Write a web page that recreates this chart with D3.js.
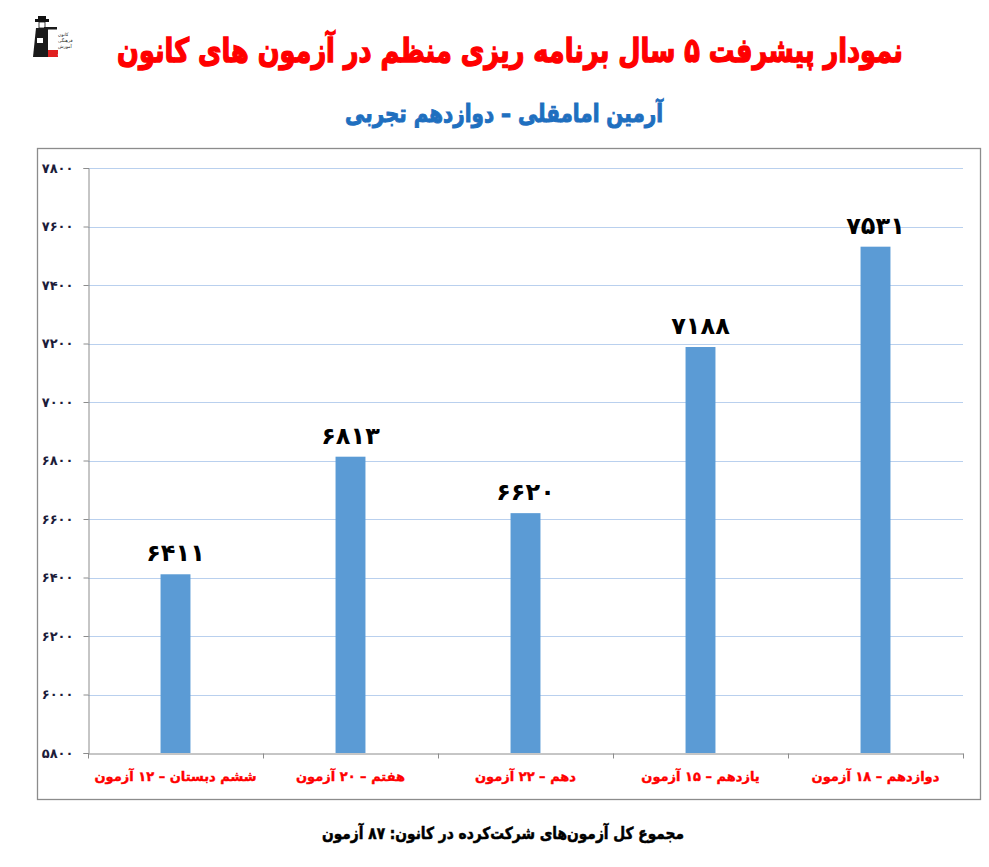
<!DOCTYPE html>
<html lang="fa">
<head>
<meta charset="utf-8">
<script src="https://cdn.jsdelivr.net/npm/d3@7"></script>
<style>
  html, body { margin: 0; padding: 0; background: #fff; }
  svg { display: block; }
  text { font-family: "DejaVu Sans", "Noto Sans", sans-serif; }
</style>
</head>
<body>
<svg id="chart" width="989" height="867"></svg>
<script>
// ---- data ----
const categories = [
  "ششم دبستان – ۱۲ آزمون",
  "هفتم – ۲۰ آزمون",
  "دهم – ۲۲ آزمون",
  "یازدهم – ۱۵ آزمون",
  "دوازدهم – ۱۸ آزمون"
];
const values = [6411, 6813, 6620, 7188, 7531];
const yTicks = [5800, 6000, 6200, 6400, 6600, 6800, 7000, 7200, 7400, 7600, 7800];
const titleText = "نمودار پیشرفت ۵ سال برنامه ریزی منظم در آزمون های کانون";
const subtitleText = "آرمین امامقلی – دوازدهم تجربی";
const footerText = "مجموع کل آزمون‌های شرکت‌کرده در کانون:  ۸۷ آزمون";

const fa = n => String(n).replace(/\d/g, d => "۰۱۲۳۴۵۶۷۸۹"[d]);

const svg = d3.select("#chart");
const plot = { left: 88, right: 963, top: 168, bottom: 753 };

// frame
svg.append("rect").attr("x", 37.5).attr("y", 148.5).attr("width", 943).attr("height", 651)
  .attr("fill", "#fff").attr("stroke", "#8c8c8c").attr("stroke-width", 1.3);

const x = d3.scaleBand().domain(categories).range([plot.left, plot.right]).paddingInner(0.829).paddingOuter(0.4145);
const xb = d3.scaleBand().domain(categories).range([plot.left, plot.right]);
const y = d3.scaleLinear().domain([5800, 7800]).range([plot.bottom, plot.top]);

// gridlines
svg.append("g").selectAll("line").data(yTicks.slice(1)).join("line")
  .attr("x1", plot.left).attr("x2", plot.right)
  .attr("y1", d => Math.round(y(d)) + 0.5).attr("y2", d => Math.round(y(d)) + 0.5)
  .attr("stroke", "#b9d0ee").attr("stroke-width", 1);

// bars
svg.append("g").selectAll("rect").data(values).join("rect")
  .attr("x", (d, i) => x(categories[i]))
  .attr("width", x.bandwidth())
  .attr("y", d => y(d))
  .attr("height", d => plot.bottom - y(d))
  .attr("fill", "#5b9bd5");

// value labels
svg.append("g").selectAll("text").data(values).join("text")
  .attr("x", (d, i) => x(categories[i]) + x.bandwidth() / 2)
  .attr("y", d => y(d) - 13)
  .attr("text-anchor", "middle")
  .attr("font-size", 24).attr("font-weight", "bold").attr("fill", "#000")
  .text(d => fa(d));

// y axis
const yAxis = d3.axisLeft(y).tickValues(yTicks).tickSize(5).tickPadding(10).tickFormat(d => fa(d));
const gy = svg.append("g").attr("transform", `translate(${plot.left + 0.5},0)`).call(yAxis);
gy.select(".domain").attr("stroke", "#8c8c8c");
gy.selectAll(".tick line").attr("stroke", "#8c8c8c");
gy.selectAll(".tick text").attr("font-size", 13).attr("font-weight", "bold").attr("fill", "#1c1c3a")
  .attr("font-family", "DejaVu Sans");

// x axis
const gx = svg.append("g").attr("transform", `translate(0,${plot.bottom + 0.5})`)
  .call(d3.axisBottom(xb).tickSize(0).tickFormat(""));
gx.select(".domain").attr("stroke", "#8c8c8c");
gx.selectAll(".tick").remove();
const bounds = [plot.left, ...categories.map(c => xb(c) + xb.bandwidth())];
gx.selectAll("line.b").data(bounds).join("line").attr("class", "b")
  .attr("x1", d => d + 0.5).attr("x2", d => d + 0.5).attr("y1", 0).attr("y2", 5)
  .attr("stroke", "#8c8c8c");

// category labels
svg.append("g").selectAll("text").data(categories).join("text")
  .attr("x", d => xb(d) + xb.bandwidth() / 2)
  .attr("y", 781)
  .attr("text-anchor", "middle").attr("direction", "rtl")
  .attr("font-size", 13).attr("font-weight", "bold").attr("fill", "#ff0000")
  .attr("stroke", "#ff0000").attr("stroke-width", 0.4)
  .text(d => d);

// titles
function stretchedText(cx, cy, txt, fs, color, targetWidth, sy, sw) {
  const g = svg.append("g").attr("transform", `translate(${cx},${cy}) scale(1,${sy})`);
  const t = g.append("text").attr("x", 0).attr("y", 0).attr("text-anchor", "middle")
    .attr("direction", "rtl").attr("font-size", fs).attr("font-weight", "bold")
    .attr("fill", color).attr("stroke", color).attr("stroke-width", sw)
    .text(txt);
  const w = t.node().getComputedTextLength();
  t.attr("font-size", fs * targetWidth / w);
  return t;
}
stretchedText(510, 62, titleText, 30, "#ff0000", 786, 1.3, 1.1);
stretchedText(504, 122, subtitleText, 22, "#1f6fbf", 318, 1.25, 0.8);
stretchedText(503, 839, footerText, 14, "#000", 362, 1.2, 0.45);

// logo (simplified)
const logo = svg.append("g");
logo.append("rect").attr("x", 35).attr("y", 19).attr("width", 14).attr("height", 3).attr("fill", "#111");
logo.append("rect").attr("x", 38).attr("y", 16).attr("width", 8).attr("height", 4).attr("fill", "#111");
logo.append("rect").attr("x", 39).attr("y", 22).attr("width", 6).attr("height", 6).attr("fill", "#fff").attr("stroke", "#111").attr("stroke-width", 0.8);
logo.append("path").attr("d", "M36,28 L48,28 L50,57 L33,57 Z").attr("fill", "#1a1a1a");
logo.append("rect").attr("x", 44).attr("y", 27).attr("width", 13).attr("height", 2.5).attr("fill", "#1a1a1a");
logo.append("rect").attr("x", 37).attr("y", 38).attr("width", 6).attr("height", 5).attr("fill", "#fff");
logo.append("rect").attr("x", 48).attr("y", 30).attr("width", 10).attr("height", 27).attr("fill", "#fff");
["کانون", "فرهنگی", "آموزش"].forEach((t, i) => {
  logo.append("text").attr("x", 58).attr("y", 36 + i * 6).attr("text-anchor", "end")
    .attr("direction", "rtl").attr("font-size", 4.5).attr("fill", "#222").text(t);
});
logo.append("rect").attr("x", 48).attr("y", 50).attr("width", 10).attr("height", 7).attr("fill", "#e02020");
logo.append("text").attr("x", 57.5).attr("y", 55).attr("text-anchor", "end").attr("direction", "rtl")
  .attr("font-size", 4).attr("fill", "#fff").text("قلم چی");
</script>
</body>
</html>
